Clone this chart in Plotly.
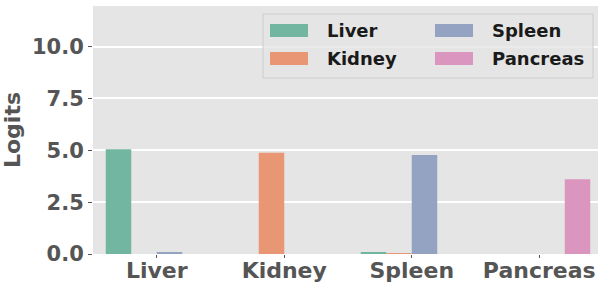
import plotly.graph_objects as go

categories = ["Liver", "Kidney", "Spleen", "Pancreas"]
series_names = ["Liver", "Kidney", "Spleen", "Pancreas"]
series_values = {
    "Liver":    [5.05, 0.0, 0.09, 0.0],
    "Kidney":   [0.0, 4.88, 0.04, 0.0],
    "Spleen":   [0.05, 0.0, 4.78, 0.0],
    "Pancreas": [0.0, 0.0, 0.0, 3.6],
}
colors = ["#72b6a1", "#e99675", "#95a3c3", "#db96c0"]
y_ticks = [0, 2.5, 5.0, 7.5, 10.0]

W, H = 598, 286
L, R, T, B = 93, 0, 6, 32
FONT = "DejaVu Sans"
TXT = "#555555"

fig = go.Figure()
for name, col in zip(series_names, colors):
    fig.add_trace(go.Bar(x=categories, y=series_values[name], name=name,
                         marker=dict(color=col, line=dict(width=0)),
                         showlegend=False))

pw, ph = W - L - R, H - T - B
def px(x):
    return (x - L) / pw
def py(y):
    return (H - B - y) / ph

shapes = []
annotations = []
# legend box
shapes.append(dict(type="rect", xref="paper", yref="paper",
                   x0=px(263), x1=px(593), y0=py(78), y1=py(14),
                   fillcolor="rgba(229,229,229,0.8)",
                   line=dict(color="#cccccc", width=1), layer="above"))
cols_x = [(270, 308, 325), (435, 473, 490)]
rows_y = [30.5, 58.5]
for i, (name, col) in enumerate(zip(series_names, colors)):
    c, r = i // 2, i % 2
    sx0, sx1, tx = cols_x[c]
    yc = rows_y[r]
    shapes.append(dict(type="rect", xref="paper", yref="paper",
                       x0=px(sx0), x1=px(sx1), y0=py(yc + 6.5), y1=py(yc - 6.5),
                       fillcolor=col, line=dict(width=0), layer="above"))
    annotations.append(dict(xref="paper", yref="paper", x=px(tx), y=py(yc),
                            text="<b>%s</b>" % name, showarrow=False,
                            xanchor="left", yanchor="middle",
                            font=dict(family=FONT, size=18, color="#1a1a1a")))

fig.update_layout(
    width=W, height=H,
    margin=dict(l=L, r=R, t=T, b=B, autoexpand=False),
    paper_bgcolor="white", plot_bgcolor="#e5e5e5",
    barmode="group", bargap=0.2, bargroupgap=0,
    font=dict(family=FONT, color=TXT),
    shapes=shapes, annotations=annotations,
    xaxis=dict(range=[-0.5, 3.5 - 5 / 127.5], showgrid=False, zeroline=False,
               ticks="outside", ticklen=3, tickcolor=TXT,
               tickfont=dict(family=FONT, size=22, color=TXT),
               ticklabelstandoff=-6,
               tickprefix="<b>", ticksuffix="</b>", automargin=False),
    yaxis=dict(range=[0, 11.96], tickvals=y_ticks,
               ticktext=["<b>%.1f</b>" % v for v in y_ticks],
               showgrid=True, gridcolor="white", gridwidth=1.5, zeroline=False,
               ticks="outside", ticklen=4, tickcolor=TXT, automargin=False,
               tickfont=dict(family=FONT, size=21, color=TXT),
               title=dict(text="<b>Logits</b>", font=dict(family=FONT, size=22, color=TXT),
                          standoff=8)),
)

fig.write_html("out.html", config={"displayModeBar": False},
               post_script="document.body.style.margin='0px';")
